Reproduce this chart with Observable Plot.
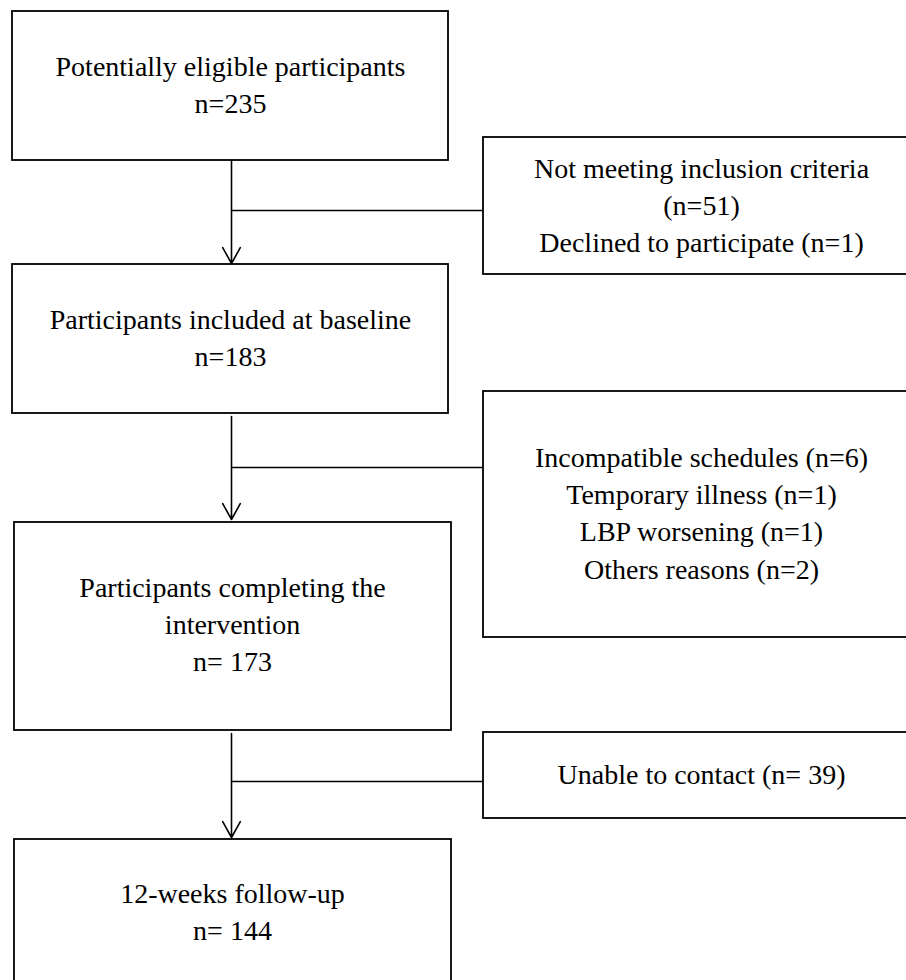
<!DOCTYPE html>
<html>
<head>
<meta charset="utf-8">
<script src="https://cdn.jsdelivr.net/npm/d3@7"></script>
<script src="https://cdn.jsdelivr.net/npm/@observablehq/plot@0.6"></script>
<style>
  html, body { margin: 0; padding: 0; background: #fff; }
  #chart svg { display: block; }
  #chart svg text { font-family: "Liberation Serif", "Times New Roman", Times, serif !important; }
</style>
</head>
<body>
<div id="chart"></div>
<script>
// ---- Content (flow stages and their counts) ----
const mainStages = [
  ["Potentially eligible participants", "n=235"],
  ["Participants included at baseline", "n=183"],
  ["Participants completing the", "intervention", "n= 173"],
  ["12-weeks follow-up", "n= 144"]
];
const sideStages = [
  ["Not meeting inclusion criteria", "(n=51)", "Declined to participate (n=1)"],
  ["Incompatible schedules (n=6)", "Temporary illness (n=1)", "LBP worsening (n=1)", "Others reasons (n=2)"],
  ["Unable to contact (n= 39)"]
];

// ---- Layout (diagram geometry, pixel units) ----
const mainBoxX = [[12, 448], [12, 448], [14, 451], [14, 451]];
const mainBoxY = [[11, 160], [264, 413], [522, 730], [839, 992]];
const mainTextX = [230, 230, 232, 232];
const mainFirstBaseline = [75, 328, 596, 902];
const sideBoxX = [483, 912];
const sideBoxY = [[137, 274], [391, 637], [732, 818]];
const sideTextX = 701;
const sideFirstBaseline = [177, 466, 783];
const lineStep = 37.4;
const connectorX = 231;
const arrowSegments = [[160, 263], [416, 519], [733, 837]];
const branchY = [210, 467, 781];

const boxes = [];
mainStages.forEach((lines, i) => boxes.push({x1: mainBoxX[i][0], x2: mainBoxX[i][1], y1: mainBoxY[i][0], y2: mainBoxY[i][1]}));
sideStages.forEach((lines, i) => boxes.push({x1: sideBoxX[0], x2: sideBoxX[1], y1: sideBoxY[i][0], y2: sideBoxY[i][1]}));

const texts = [];
mainStages.forEach((lines, i) => lines.forEach((t, j) => texts.push({x: mainTextX[i], y: mainFirstBaseline[i] + j * lineStep, text: t})));
sideStages.forEach((lines, i) => lines.forEach((t, j) => texts.push({x: sideTextX, y: sideFirstBaseline[i] + j * lineStep, text: t})));

const arrows = arrowSegments.map(([a, b]) => ({x1: connectorX, y1: a, x2: connectorX, y2: b}));
const branches = branchY.map(y => ({x1: connectorX, y1: y, x2: sideBoxX[0], y2: y}));

const chart = Plot.plot({
  width: 906,
  height: 980,
  margin: 0,
  style: {background: "#fff"},
  x: {domain: [0, 906], range: [0, 906], axis: null},
  y: {domain: [0, 980], range: [0, 980], axis: null},
  marks: [
    Plot.link(branches, {x1: "x1", y1: "y1", x2: "x2", y2: "y2", stroke: "#000", strokeWidth: 1.5}),
    Plot.arrow(arrows, {x1: "x1", y1: "y1", x2: "x2", y2: "y2", stroke: "#000", strokeWidth: 1.6, headLength: 17, headAngle: 58}),
    Plot.rect(boxes, {x1: "x1", x2: "x2", y1: "y1", y2: "y2", fill: "#fff", stroke: "#000", strokeWidth: 1.8}),
    Plot.text(texts, {x: "x", y: "y", text: "text", lineAnchor: "bottom", textAnchor: "middle", fontSize: 28, fontFamily: "Liberation Serif", fill: "#000"})
  ]
});
document.getElementById("chart").appendChild(chart);
</script>
</body>
</html>
